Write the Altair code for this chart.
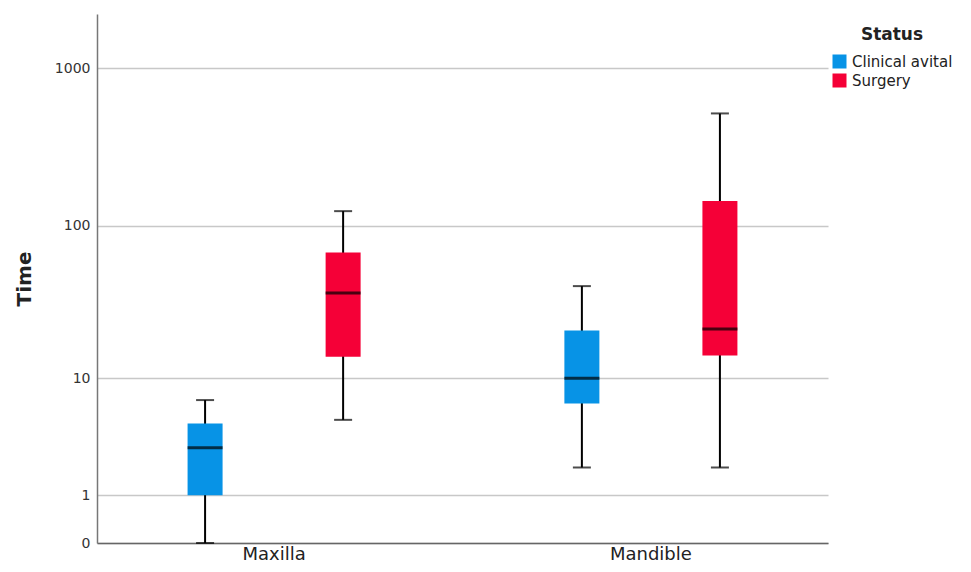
import altair as alt
import pandas as pd

regions = ["Maxilla", "Maxilla", "Mandible", "Mandible"]
status = ["Clinical avital", "Surgery", "Clinical avital", "Surgery"]
lower = [0, 5, 2, 2]
q1 = [1, 14, 6.6, 14.3]
median = [3, 37, 10, 21.5]
q3 = [4.7, 67.6, 21, 144]
upper = [7, 124, 41, 517]

df = pd.DataFrame({"Region": regions, "Status": status, "lower": lower,
                   "q1": q1, "median": median, "q3": q3, "upper": upper})

font = "DejaVu Sans"
xenc = alt.X("Region:N", sort=["Maxilla", "Mandible"],
             scale=alt.Scale(paddingInner=0.06, paddingOuter=0),
             axis=alt.Axis(title=None, labelAngle=0, ticks=False, domainColor="#666666",
                           domainWidth=1.5, labelFontSize=18, labelPadding=2, labelColor="#222222",
                           labelFont=font, grid=False))
xoff = alt.XOffset("Status:N", sort=["Clinical avital", "Surgery"],
                   scale=alt.Scale(paddingInner=0, paddingOuter=0.283))
yscale = alt.Scale(type="symlog", domain=[0, 2200], nice=False)
yaxis = alt.Axis(values=[0, 1, 10, 100, 1000], title="Time", titleFontSize=20, titleFontWeight="bold",
                 titleFont=font, titleColor="#222222", titlePadding=20,
                 labelFont=font, labelFontSize=14, labelColor="#333333", labelPadding=7,
                 ticks=False, domainColor="#777777", domainWidth=1.5, gridColor="#c8c8c8", gridWidth=1.5,
                 format="d")

base = alt.Chart(df)

whisker = base.mark_rule(color="black", strokeWidth=2).encode(
    x=xenc, xOffset=xoff,
    y=alt.Y("lower:Q", scale=yscale, axis=yaxis), y2="upper:Q")

box = base.mark_bar(size=35).encode(
    x=xenc, xOffset=xoff,
    y=alt.Y("q1:Q", scale=yscale), y2="q3:Q",
    color=alt.Color("Status:N", sort=["Clinical avital", "Surgery"],
                    scale=alt.Scale(domain=["Clinical avital", "Surgery"], range=["#0793E6", "#F50037"]),
                    legend=alt.Legend(orient="none", legendX=735, legendY=13, title="Status",
                                      titleFontSize=17, titleFontWeight="bold", titleFont=font,
                                      titleColor="#222222", titleAnchor="middle", titlePadding=10,
                                      labelFontSize=15, labelFont=font, labelColor="#222222",
                                      labelOffset=5,
                                      symbolType="square", symbolSize=196, symbolStrokeWidth=0,
                                      rowPadding=3)))

med = base.mark_tick(color="black", size=35, thickness=3).encode(
    x=xenc, xOffset=xoff, y=alt.Y("median:Q", scale=yscale))

cap_lo = base.mark_tick(color="black", size=18, thickness=2).encode(
    x=xenc, xOffset=xoff, y=alt.Y("lower:Q", scale=yscale))
cap_hi = base.mark_tick(color="black", size=18, thickness=2).encode(
    x=xenc, xOffset=xoff, y=alt.Y("upper:Q", scale=yscale))

chart = alt.layer(whisker, box, med, cap_lo, cap_hi).properties(
    width=731, height=529,
    autosize=alt.AutoSizeParams(type="none"),
    padding={"left": 89, "top": 6, "right": 135, "bottom": 21},
    background="white"
).configure_view(stroke=None)

chart.save("out.html", embed_options={"renderer": "svg", "actions": False})
